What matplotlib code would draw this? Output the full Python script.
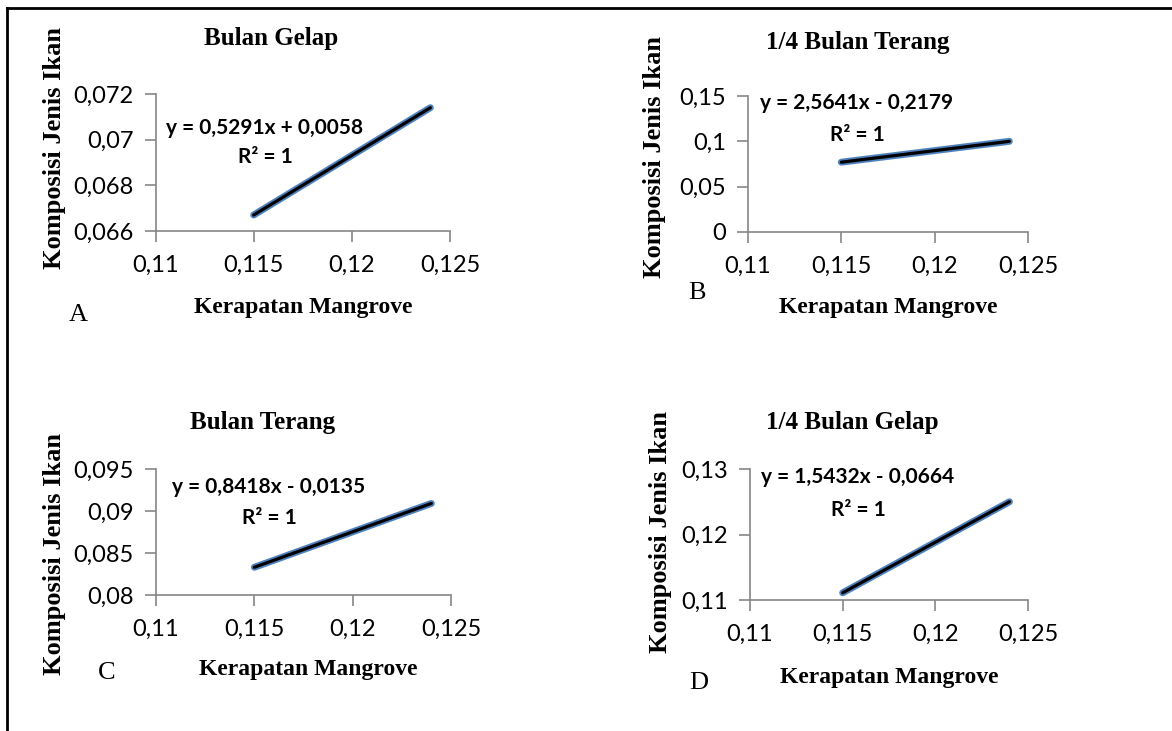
import matplotlib
matplotlib.use("Agg")
import matplotlib.pyplot as plt
from matplotlib.lines import Line2D
from matplotlib.ticker import FuncFormatter

# data
x_vals = [0.115, 0.124]
y_gelap = [0.0667, 0.0714]
y_q_terang = [0.0770, 0.1000]
y_terang = [0.0833, 0.0909]
y_q_gelap = [0.1111, 0.1250]

titles = ["Bulan Gelap", "1/4 Bulan Terang", "Bulan Terang", "1/4 Bulan Gelap"]
letters = ["A", "B", "C", "D"]
equations = ["y = 0,5291x + 0,0058", "y = 2,5641x - 0,2179",
             "y = 0,8418x - 0,0135", "y = 1,5432x - 0,0664"]
x_ticks = [0.11, 0.115, 0.12, 0.125]
y_ticks_list = [[0.066, 0.068, 0.07, 0.072],
                [0, 0.05, 0.1, 0.15],
                [0.08, 0.085, 0.09, 0.095],
                [0.11, 0.12, 0.13]]
series = [y_gelap, y_q_terang, y_terang, y_q_gelap]

W, H = 1172, 731
fig = plt.figure(figsize=(W / 100, H / 100), dpi=100)

def fx(x):
    return x / W

def fy(y):
    return 1 - y / H

# pixel layout of each panel: axes box, title, ylabel, xlabel, letter, equation
layout = [
    dict(box=(155.5, 94, 450, 231), title=(271, 38), ylab=(55, 148), xlab=(303, 307),
         let=(78, 315), eq=(265, 128), r2=(265, 157)),
    dict(box=(748, 96, 1028, 232), title=(858, 43), ylab=(655, 157), xlab=(888, 307),
         let=(697, 293), eq=(857, 103), r2=(857, 135)),
    dict(box=(156, 469, 451, 595), title=(263, 422), ylab=(55, 554), xlab=(308, 670),
         let=(107, 673), eq=(269, 487), r2=(269, 518)),
    dict(box=(750, 469, 1028, 600), title=(852, 422), ylab=(660, 532), xlab=(889, 677),
         let=(699, 683), eq=(858, 477), r2=(858, 510)),
]

fmt = FuncFormatter(lambda v, p: f"{v:g}".replace(".", ","))
axis_gray = "#868686"
serif = "Liberation Serif"
sans = "Lato"

for i, lay in enumerate(layout):
    l, t, r, b = lay["box"]
    ax = fig.add_axes([fx(l), fy(b), (r - l) / W, (b - t) / H])
    yt = y_ticks_list[i]
    ax.plot(x_vals, series[i], color="#4F81BD", lw=5, solid_capstyle="round")
    ax.plot(x_vals, series[i], color="black", lw=2.3, solid_capstyle="round")
    ax.set_xlim(x_ticks[0], x_ticks[-1])
    ax.set_ylim(yt[0], yt[-1])
    ax.set_xticks(x_ticks)
    ax.set_yticks(yt)
    ax.xaxis.set_major_formatter(fmt)
    ax.yaxis.set_major_formatter(fmt)
    for s in ["top", "right"]:
        ax.spines[s].set_visible(False)
    for s in ["left", "bottom"]:
        ax.spines[s].set_color(axis_gray)
        ax.spines[s].set_linewidth(1.2)
    ax.tick_params(axis="both", colors=axis_gray, length=8, width=1.2, labelcolor="black",
                   labelsize=17)
    ax.tick_params(axis="x", pad=9)
    ax.tick_params(axis="y", pad=8)
    for lab in ax.get_xticklabels() + ax.get_yticklabels():
        lab.set_fontfamily(sans)
    ax.patch.set_alpha(0)

    fig.text(fx(lay["title"][0]), fy(lay["title"][1]), titles[i], family=serif,
             weight="bold", fontsize=18, ha="center", va="center")
    fig.text(fx(lay["ylab"][0]), fy(lay["ylab"][1]), "Komposisi Jenis Ikan", family=serif,
             weight="bold", fontsize=19, ha="center", va="center", rotation=90)
    fig.text(fx(lay["xlab"][0]), fy(lay["xlab"][1]), "Kerapatan Mangrove", family=serif,
             weight="bold", fontsize=17, ha="center", va="center")
    fig.text(fx(lay["let"][0]), fy(lay["let"][1]), letters[i], family=serif,
             fontsize=19, ha="center", va="center")
    fig.text(fx(lay["eq"][0]), fy(lay["eq"][1]), equations[i], family=sans,
             weight="bold", fontsize=15, ha="center", va="center")
    fig.text(fx(lay["r2"][0]), fy(lay["r2"][1]), "R² = 1", family=sans,
             weight="bold", fontsize=15, ha="center", va="center")

# outer frame (top and left edges visible)
fig.add_artist(Line2D([fx(6.5), 1], [fy(7.5), fy(7.5)], color="black", lw=2))
fig.add_artist(Line2D([fx(6.5), fx(6.5)], [fy(7.5), 0], color="black", lw=2))

fig.savefig("out.png", dpi=100)
